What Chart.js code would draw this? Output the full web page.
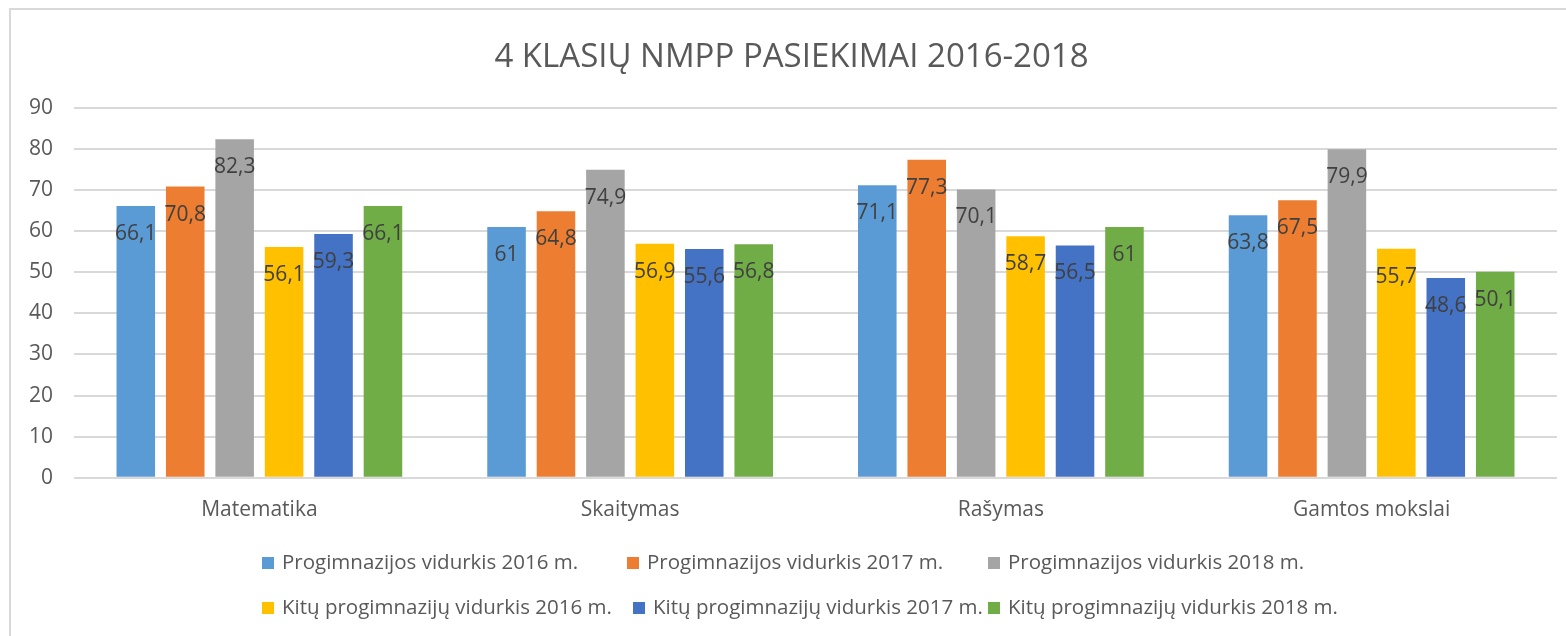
<!DOCTYPE html>
<html>
<head>
<meta charset="utf-8">
<script src="https://cdn.jsdelivr.net/npm/chart.js@4.4.1/dist/chart.umd.min.js"></script>
<style>
	html, body { margin: 0; padding: 0; background: #fff; overflow: hidden; }
	#frame { position: absolute; left: 9px; top: 8px; width: 1600px; height: 700px; border: 2px solid #d9d9d9; }
	#wrap { position: absolute; left: 0; top: 0; width: 1566px; height: 636px; }
</style>
</head>
<body>
<div id="frame"></div>
<div id="wrap"><canvas id="chart-bar"></canvas></div>
<script>
const TITLE = "4 KLASIŲ NMPP PASIEKIMAI 2016-2018";
const CATEGORIES = ["Matematika", "Skaitymas", "Rašymas", "Gamtos mokslai"];
const SERIES_NAMES = [
	"Progimnazijos vidurkis 2016 m.",
	"Progimnazijos vidurkis 2017 m.",
	"Progimnazijos vidurkis 2018 m.",
	"Kitų progimnazijų vidurkis 2016 m.",
	"Kitų progimnazijų vidurkis 2017 m.",
	"Kitų progimnazijų vidurkis 2018 m.",
];
const PROG_2016 = [66.1, 61, 71.1, 63.8];
const PROG_2017 = [70.8, 64.8, 77.3, 67.5];
const PROG_2018 = [82.3, 74.9, 70.1, 79.9];
const KITU_2016 = [56.1, 56.9, 58.7, 55.7];
const KITU_2017 = [59.3, 55.6, 56.5, 48.6];
const KITU_2018 = [66.1, 56.8, 61, 50.1];
const Y_TICKS = [0, 10, 20, 30, 40, 50, 60, 70, 80, 90];

const COLORS = ["#5b9bd5", "#ed7d31", "#a5a5a5", "#ffc000", "#4472c4", "#70ad47"];
const FONT = "'Open Sans', 'Noto Sans', sans-serif";
const TEXT = "#595959";

// value labels near the top of each bar
const barLabels = {
	id: "barLabels",
	afterDatasetsDraw(chart) {
		const { ctx } = chart;
		ctx.save();
		ctx.font = "21px " + FONT;
		ctx.fillStyle = "#404040";
		ctx.textAlign = "center";
		ctx.textBaseline = "middle";
		chart.data.datasets.forEach((ds, i) => {
			chart.getDatasetMeta(i).data.forEach((bar, j) => {
				const txt = String(ds.data[j]).replace(".", ",");
				ctx.fillText(txt, bar.x, bar.y + 28);
			});
		});
		ctx.restore();
	},
};

// legend laid out as a 3 column grid, like the original
const gridLegend = {
	id: "gridLegend",
	afterDraw(chart) {
		const { ctx } = chart;
		const cols = [[262, 627, 988], [262, 633, 988]];
		const rows = [563, 608];
		ctx.save();
		ctx.font = "20.5px " + FONT;
		ctx.textBaseline = "middle";
		ctx.textAlign = "left";
		chart.data.datasets.forEach((ds, i) => {
			const row = Math.floor(i / 3);
			const x = cols[row][i % 3];
			const y = rows[row];
			ctx.fillStyle = ds.backgroundColor;
			ctx.fillRect(x, y - 6, 12, 12);
			ctx.fillStyle = TEXT;
			ctx.fillText(ds.label, x + 20, y);
		});
		ctx.restore();
	},
};

const SERIES = [PROG_2016, PROG_2017, PROG_2018, KITU_2016, KITU_2017, KITU_2018];

const DATA = {
	labels: CATEGORIES,
	datasets: SERIES.map((values, i) => ({
		label: SERIES_NAMES[i],
		data: values,
		backgroundColor: COLORS[i],
		borderWidth: 0,
		categoryPercentage: 0.8,
		barPercentage: 0.78,
	})),
};

const CONFIG = {
	type: "bar",
	data: DATA,
	options: {
		responsive: true,
		maintainAspectRatio: false,
		animation: false,
		layout: {
			padding: { left: 26, right: 9, top: 0, bottom: 93 },
		},
		plugins: {
			legend: { display: false },
			tooltip: { enabled: false },
			title: {
				display: true,
				text: TITLE,
				color: TEXT,
				font: { family: FONT, size: 33, weight: "normal" },
				padding: { top: 38, bottom: 30 },
			},
		},
		scales: {
			x: {
				border: { display: false },
				grid: { display: false, drawTicks: false },
				ticks: {
					color: TEXT,
					padding: 20,
					font: { family: FONT, size: 21 },
				},
			},
			y: {
				min: 0,
				max: 90,
				border: { display: false },
				grid: { color: "#d9d9d9", lineWidth: 2, drawTicks: false },
				afterBuildTicks(scale) {
					scale.ticks = Y_TICKS.map((v) => ({ value: v }));
				},
				afterFit(scale) {
					scale.width = 48;
				},
				ticks: {
					color: TEXT,
					padding: 21,
					font: { family: FONT, size: 21 },
				},
			},
		},
	},
	plugins: [barLabels, gridLegend],
};

const WRAPPER = document.getElementById("chart-bar");
if (WRAPPER) {
	new Chart(WRAPPER, CONFIG);
}
</script>
</body>
</html>
